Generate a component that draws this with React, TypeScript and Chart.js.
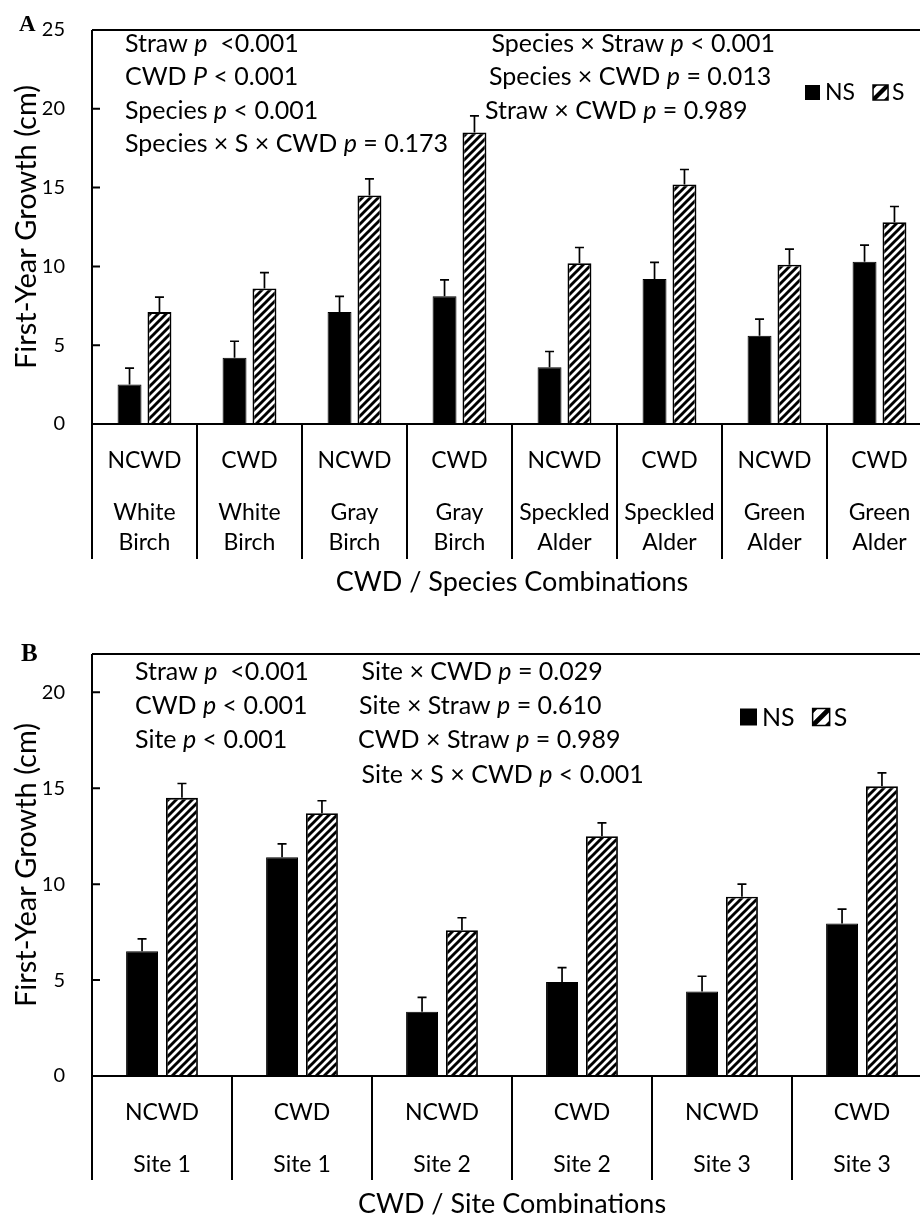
import React, { useEffect, useRef } from "react";
import { Chart, registerables } from "chart.js";

Chart.register(...registerables);

const FONT = "Lato, 'Open Sans', 'DejaVu Sans', sans-serif";
const SERIF = "'Liberation Serif', 'DejaVu Serif', serif";

// ---------- Panel A data ----------
const cwdA = ["NCWD", "CWD", "NCWD", "CWD", "NCWD", "CWD", "NCWD", "CWD"];
const speciesA = [
  ["White", "Birch"], ["White", "Birch"], ["Gray", "Birch"], ["Gray", "Birch"],
  ["Speckled", "Alder"], ["Speckled", "Alder"], ["Green", "Alder"], ["Green", "Alder"],
];
const nsA = [2.5, 4.2, 7.1, 8.1, 3.6, 9.2, 5.6, 10.3];
const nsErrA = [1.05, 1.05, 1.0, 1.05, 1.0, 1.05, 1.05, 1.05];
const sA = [7.1, 8.6, 14.5, 18.5, 10.2, 15.2, 10.1, 12.8];
const sErrA = [0.95, 1.0, 1.05, 1.05, 1.0, 0.95, 1.0, 1.0];
const statsA = [
  "Straw *p*  <0.001",
  "CWD *P* < 0.001",
  "Species *p* < 0.001",
  "Species × S × CWD *p* = 0.173",
  "Species × Straw *p* < 0.001",
  "Species × CWD *p* = 0.013",
  "Straw × CWD *p* = 0.989",
];
const xTitleA = "CWD / Species Combinations";

// ---------- Panel B data ----------
const cwdB = ["NCWD", "CWD", "NCWD", "CWD", "NCWD", "CWD"];
const siteB = [["Site 1"], ["Site 1"], ["Site 2"], ["Site 2"], ["Site 3"], ["Site 3"]];
const nsB = [6.5, 11.4, 3.35, 4.9, 4.4, 7.95];
const nsErrB = [0.65, 0.7, 0.75, 0.75, 0.8, 0.75];
const sB = [14.5, 13.7, 7.6, 12.5, 9.35, 15.1];
const sErrB = [0.75, 0.65, 0.65, 0.7, 0.65, 0.7];
const statsB = [
  "Straw *p*  <0.001",
  "CWD *p* < 0.001",
  "Site *p* < 0.001",
  "Site × CWD *p* = 0.029",
  "Site × Straw *p* = 0.610",
  "CWD × Straw *p* = 0.989",
  "Site × S × CWD *p* < 0.001",
];
const xTitleB = "CWD / Site Combinations";

const seriesNames = ["NS", "S"];
const yTitle = "First-Year Growth (cm)";

function makeHatch(size: number, lw: number) {
  const c = document.createElement("canvas");
  c.width = size;
  c.height = size;
  const g = c.getContext("2d")!;
  g.fillStyle = "#fff";
  g.fillRect(0, 0, size, size);
  g.strokeStyle = "#000";
  g.lineWidth = lw;
  g.beginPath();
  for (let k = -1; k <= 1; k++) {
    g.moveTo(k * size - 2, size + 2);
    g.lineTo(k * size + size + 2, -2);
  }
  g.stroke();
  return g.createPattern(c, "repeat")!;
}

function drawRich(ctx: CanvasRenderingContext2D, str: string, x: number, y: number, size: number) {
  const parts = str.split("*");
  let cx = x;
  parts.forEach((p, i) => {
    ctx.font = `${i % 2 ? "italic " : ""}${size}px ${FONT}`;
    ctx.fillText(p, cx, y);
    cx += ctx.measureText(p).width;
  });
}

type Layout = {
  letter: string;
  letterSize: number;
  letterX: number;
  letterY: number;
  errors: number[][];
  cat1: string[];
  cat2: string[][];
  cat1Y: number;
  cat2Y: number;
  sepBottom: number;
  xTitle: string;
  xTitleY: number;
  stats: string[];
  statPos: [number, number][];
  legend: { x: number; y: number; box: number; size: number; gap: number };
};

function makePlugin(L: Layout) {
  return {
    id: "deco",
    afterDatasetsDraw(chart: any) {
      const ctx = chart.ctx as CanvasRenderingContext2D;
      const y = chart.scales.y;
      ctx.save();
      ctx.strokeStyle = "#000";
      ctx.lineWidth = 1.7;
      chart.data.datasets.forEach((ds: any, di: number) => {
        const meta = chart.getDatasetMeta(di);
        meta.data.forEach((el: any, j: number) => {
          const v = ds.data[j];
          const e = L.errors[di][j];
          const top = y.getPixelForValue(v + e);
          const base = y.getPixelForValue(v);
          ctx.beginPath();
          ctx.moveTo(el.x, base);
          ctx.lineTo(el.x, top);
          ctx.moveTo(el.x - 4.5, top);
          ctx.lineTo(el.x + 4.5, top);
          ctx.stroke();
        });
      });
      ctx.restore();
    },
    afterDraw(chart: any) {
      const ctx = chart.ctx as CanvasRenderingContext2D;
      const ca = chart.chartArea;
      const xs = chart.scales.x;
      const ys = chart.scales.y;
      const y0 = ys.getPixelForValue(0);
      const n = chart.data.labels.length;
      ctx.save();
      ctx.strokeStyle = "#000";
      ctx.lineWidth = 2;
      ctx.beginPath();
      ctx.moveTo(ca.left, ca.top);
      ctx.lineTo(ca.right + 10, ca.top);
      ctx.moveTo(ca.left, ca.top);
      ctx.lineTo(ca.left, L.sepBottom);
      ctx.moveTo(ca.left, y0);
      ctx.lineTo(ca.right + 10, y0);
      for (let i = 1; i <= n; i++) {
        const xp = i < n
          ? (xs.getPixelForValue(i - 1) + xs.getPixelForValue(i)) / 2
          : xs.getPixelForValue(n - 1) + (xs.getPixelForValue(n - 1) - xs.getPixelForValue(n - 2)) / 2;
        ctx.moveTo(xp, y0);
        ctx.lineTo(xp, L.sepBottom);
      }
      ys.ticks.forEach((t: any) => {
        const py = ys.getPixelForValue(t.value);
        ctx.moveTo(ca.left, py);
        ctx.lineTo(ca.left + 8, py);
      });
      ctx.stroke();

      ctx.fillStyle = "#000";
      ctx.textBaseline = "alphabetic";
      ctx.textAlign = "center";
      ctx.font = `23px ${FONT}`;
      for (let i = 0; i < n; i++) {
        const xp = xs.getPixelForValue(i);
        ctx.fillText(L.cat1[i], xp, L.cat1Y);
        L.cat2[i].forEach((s, k) => ctx.fillText(s, xp, L.cat2Y + k * 30));
      }
      ctx.font = `27px ${FONT}`;
      ctx.fillText(L.xTitle, (ca.left + ca.right) / 2, L.xTitleY);
      ctx.save();
      ctx.font = `29px ${FONT}`;
      ctx.translate(27, (ca.top + y0) / 2);
      ctx.rotate(-Math.PI / 2);
      ctx.textBaseline = "middle";
      ctx.fillText(yTitle, 0, 0);
      ctx.restore();
      ctx.textAlign = "left";
      ctx.font = `bold ${L.letterSize}px ${SERIF}`;
      ctx.fillText(L.letter, L.letterX, L.letterY);
      L.stats.forEach((s, i) => drawRich(ctx, s, L.statPos[i][0], L.statPos[i][1], 25));
      const lg = L.legend;
      ctx.font = `${lg.size}px ${FONT}`;
      let lx = lg.x;
      const by = lg.y - lg.box;
      ctx.fillStyle = "#000";
      ctx.fillRect(lx, by, lg.box, lg.box);
      lx += lg.box + 5;
      ctx.fillText(seriesNames[0], lx, lg.y);
      lx += ctx.measureText(seriesNames[0]).width + lg.gap;
      ctx.fillStyle = "#fff";
      ctx.fillRect(lx, by, lg.box, lg.box);
      ctx.save();
      ctx.beginPath();
      ctx.rect(lx, by, lg.box, lg.box);
      ctx.clip();
      ctx.strokeStyle = "#000";
      ctx.lineWidth = lg.box * 0.28;
      ctx.beginPath();
      for (let k = -1; k <= 1; k++) {
        ctx.moveTo(lx + k * lg.box * 0.9 - 2, by + lg.box + 2);
        ctx.lineTo(lx + k * lg.box * 0.9 + lg.box + 2, by - 2);
      }
      ctx.stroke();
      ctx.restore();
      ctx.strokeStyle = "#000";
      ctx.lineWidth = 1.5;
      ctx.strokeRect(lx, by, lg.box, lg.box);
      ctx.fillStyle = "#000";
      ctx.fillText(seriesNames[1], lx + lg.box + 4, lg.y);
      ctx.restore();
    },
  };
}

function BarPanel(props: {
  labels: string[];
  ns: number[];
  s: number[];
  max: number;
  height: number;
  padTop: number;
  padBottom: number;
  layout: Layout;
  top: number;
}) {
  const ref = useRef<HTMLCanvasElement>(null);
  useEffect(() => {
    const hatch = makeHatch(8, 2.9);
    const chart = new Chart(ref.current!, {
      type: "bar",
      data: {
        labels: props.labels,
        datasets: [
          { label: seriesNames[0], data: props.ns, backgroundColor: "#000", borderColor: "#000", borderWidth: 1 },
          { label: seriesNames[1], data: props.s, backgroundColor: hatch as any, borderColor: "#000", borderWidth: 1.8 },
        ],
      },
      options: {
        responsive: false,
        animation: false,
        devicePixelRatio: 1,
        layout: { padding: { left: 0, right: 8, top: props.padTop, bottom: props.padBottom } },
        datasets: { bar: { categoryPercentage: 0.57, barPercentage: 0.8 } } as any,
        plugins: { legend: { display: false }, tooltip: { enabled: false } },
        scales: {
          x: { display: false },
          y: {
            min: 0,
            max: props.max,
            afterFit: (s: any) => {
              s.width = 92;
              s.paddingTop = 0;
              s.paddingBottom = 0;
            },
            afterBuildTicks: (s: any) => { s.ticks = s.ticks.filter((t: any) => t.value % 5 === 0); },
            ticks: { stepSize: 5, color: "#000", padding: 27, font: { family: FONT, size: 20 } },
            grid: { display: false, drawTicks: false },
            border: { display: false },
          },
        },
      },
      plugins: [makePlugin(props.layout)],
    });
    return () => chart.destroy();
  }, []);
  return (
    <canvas
      ref={ref}
      width={940}
      height={props.height}
      style={{ position: "absolute", left: 0, top: props.top, display: "block" }}
    />
  );
}

export default function App() {
  const layoutA: Layout = {
    letter: "A",
    letterSize: 23,
    letterX: 19,
    letterY: 31,
    errors: [nsErrA, sErrA],
    cat1: cwdA,
    cat2: speciesA,
    cat1Y: 468,
    cat2Y: 520,
    sepBottom: 559,
    xTitle: xTitleA,
    xTitleY: 591,
    stats: statsA,
    statPos: [[125, 51.5], [125, 85], [125, 118.5], [125, 152], [491.5, 51.5], [489, 85], [485, 118.5]],
    legend: { x: 805, y: 100, box: 15, size: 23, gap: 18 },
  };
  const layoutB: Layout = {
    letter: "B",
    letterSize: 25,
    letterX: 21,
    letterY: 60.5,
    errors: [nsErrB, sErrB],
    cat1: cwdB,
    cat2: siteB,
    cat1Y: 520,
    cat2Y: 571.5,
    sepBottom: 580,
    xTitle: xTitleB,
    xTitleY: 613,
    stats: statsB,
    statPos: [[135, 80], [135, 114], [135, 148], [361.5, 80], [359, 114], [358, 148], [361.5, 183]],
    legend: { x: 740, y: 125.5, box: 17, size: 25, gap: 18 },
  };
  return (
    <div style={{ position: "absolute", left: 0, top: 0, width: 920, height: 1216, overflow: "hidden", background: "#fff" }}>
      <BarPanel labels={cwdA} ns={nsA} s={sA} max={25} height={600} padTop={30} padBottom={176} layout={layoutA} top={0} />
      <BarPanel labels={cwdB} ns={nsB} s={sB} max={22} height={616} padTop={54} padBottom={140} layout={layoutB} top={600} />
    </div>
  );
}
